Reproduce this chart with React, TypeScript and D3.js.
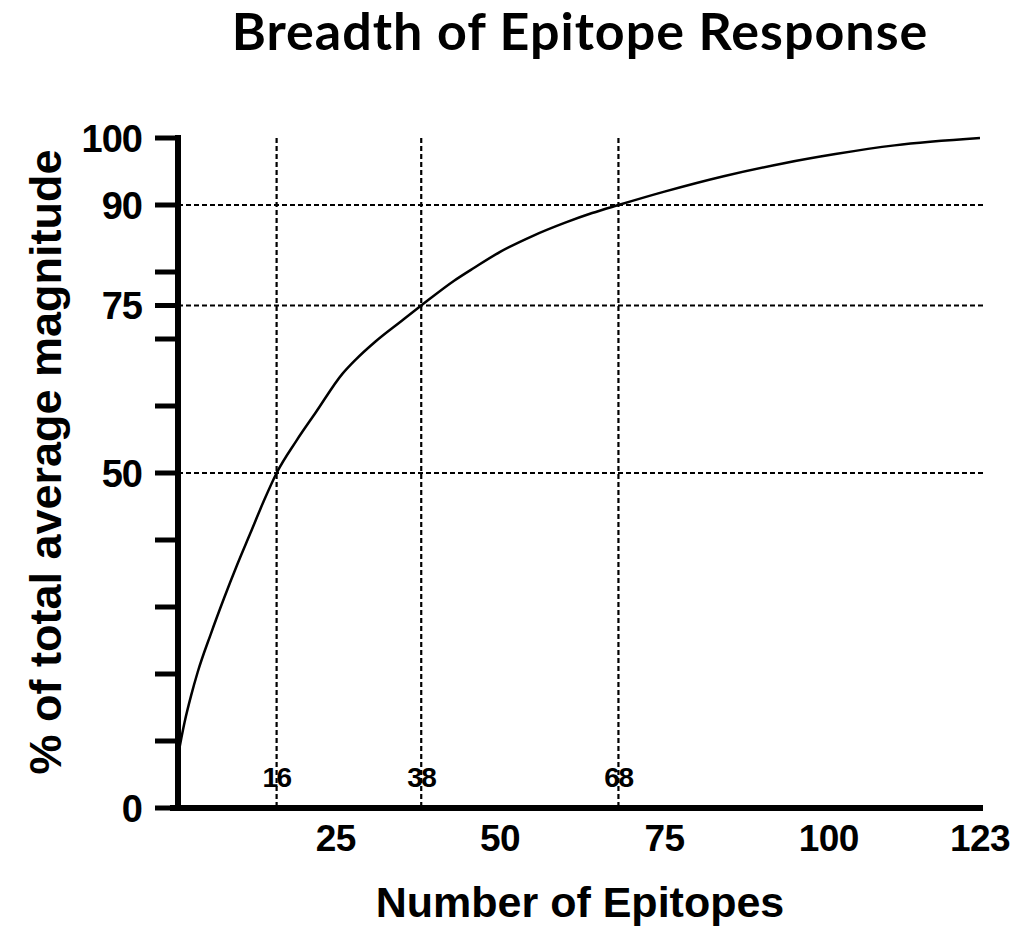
import React from "react";
import * as d3 from "d3";

const epitopeCount = [1, 2, 3, 4, 6, 8, 10, 12, 14, 16, 19, 22, 26, 28, 31, 35, 38, 43, 46, 50, 55, 60, 64, 68, 75, 84, 93, 101, 110, 123];
const cumulativePct = [7.8, 12.8, 16.8, 20.3, 26.0, 31.3, 36.3, 41.0, 45.7, 50.0, 54.8, 59.1, 64.8, 66.9, 69.6, 72.7, 75.0, 78.7, 80.6, 83.0, 85.4, 87.4, 88.8, 90.0, 92.0, 94.3, 96.2, 97.6, 98.9, 100];

const xTickValues = [25, 50, 75, 100, 123];
const yTickValues = [0, 10, 20, 30, 40, 50, 60, 70, 75, 80, 90, 100];
const yLabelValues = [0, 50, 75, 90, 100];
const thresholdPct = [50, 75, 90];
const thresholdEpitopes = [16, 38, 68];

const title = "Breadth of Epitope Response";
const xTitle = "Number of Epitopes";
const yTitle = "% of total average magnitude";

export default function App() {
  const W = 1033, H = 928;
  const x = d3.scaleLinear().domain([1, 123]).range([178, 980]);
  const y = d3.scaleLinear().domain([0, 100]).range([808, 138]);
  const pts = epitopeCount.map((e, i) => [e, cumulativePct[i]] as [number, number]);
  const line = d3.line<[number, number]>()
    .x(d => x(d[0])).y(d => y(d[1])).curve(d3.curveMonotoneX);
  const font = "'Liberation Sans', Arial, sans-serif";
  const dash = "5 3";
  return (
    <svg width={W} height={H} style={{ position: "absolute", left: 0, top: 0, background: "#fff" }}>
      <text x={580} y={50} textAnchor="middle" fontFamily="Lato, sans-serif" fontWeight={700} fontSize={52} letterSpacing={1} fill="#000">{title}</text>
      {thresholdPct.map(v => (
        <line key={"h" + v} x1={x(1)} x2={x(123) + 3} y1={y(v)} y2={y(v)} stroke="#000" strokeWidth={2.2} strokeDasharray={dash} />
      ))}
      {thresholdEpitopes.map(v => (
        <line key={"v" + v} x1={x(v)} x2={x(v)} y1={y(100)} y2={y(0)} stroke="#000" strokeWidth={2.2} strokeDasharray={dash} />
      ))}
      {thresholdEpitopes.map(v => (
        <text key={"t" + v} x={x(v)} y={787} textAnchor="middle" fontFamily={font} fontWeight={700} fontSize={28} letterSpacing={-1.5} fill="#000">{v}</text>
      ))}
      <path d={line(pts) || ""} fill="none" stroke="#000" strokeWidth={2.5} />
      <line x1={x(1)} x2={x(1)} y1={y(100) - 3} y2={y(0) + 3} stroke="#000" strokeWidth={6} />
      <line x1={x(1) - 8} x2={x(123) + 3} y1={y(0)} y2={y(0)} stroke="#000" strokeWidth={6} />
      {yTickValues.map(v => (
        <line key={"yt" + v} x1={155} x2={x(1)} y1={y(v)} y2={y(v)} stroke="#000" strokeWidth={5} />
      ))}
      {yLabelValues.map(v => (
        <text key={"yl" + v} x={142} y={y(v)} dy="0.36em" textAnchor="end" fontFamily={font} fontWeight={700} fontSize={38} letterSpacing={-1} fill="#000">{v}</text>
      ))}
      {xTickValues.map(v => (
        <text key={"xl" + v} x={x(v)} y={851} textAnchor="middle" fontFamily={font} fontWeight={700} fontSize={37} letterSpacing={-0.5} fill="#000">{v}</text>
      ))}
      <text x={580} y={917} textAnchor="middle" fontFamily={font} fontWeight={700} fontSize={43} fill="#000">{xTitle}</text>
      <text transform={`translate(61,462) rotate(-90)`} textAnchor="middle" fontFamily={font} fontWeight={700} fontSize={45} fill="#000">{yTitle}</text>
    </svg>
  );
}
